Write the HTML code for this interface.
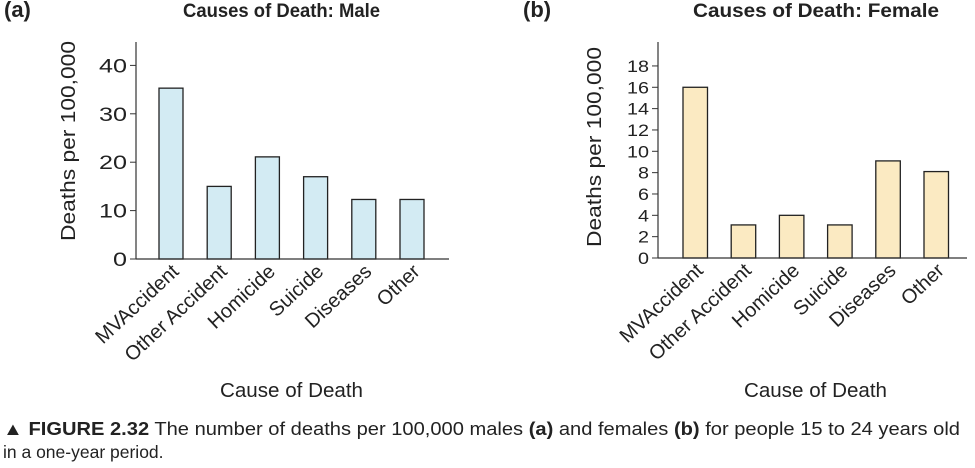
<!DOCTYPE html>
<html><head><meta charset="utf-8"><style>
body{margin:0;background:#fff;}
svg{display:block;font-family:"Liberation Sans",Arial,sans-serif;}
</style></head><body>
<svg id="fig" width="975" height="468" viewBox="0 0 975 468">
<text x="4" y="17" font-size="22" font-weight="bold" fill="#222">(a)</text>
<text x="183" y="17" font-size="19" font-weight="bold" fill="#222" textLength="197" lengthAdjust="spacingAndGlyphs">Causes of Death: Male</text>
<text x="523" y="17" font-size="22" font-weight="bold" fill="#222">(b)</text>
<text x="693" y="17" font-size="19" font-weight="bold" fill="#222" textLength="246" lengthAdjust="spacingAndGlyphs">Causes of Death: Female</text>
<text x="75" y="141" font-size="20" fill="#222" text-anchor="middle" textLength="200" lengthAdjust="spacingAndGlyphs" transform="rotate(-90 75 141)">Deaths per 100,000</text>
<text x="601" y="147" font-size="20" fill="#222" text-anchor="middle" textLength="200" lengthAdjust="spacingAndGlyphs" transform="rotate(-90 601 147)">Deaths per 100,000</text>
<text x="220" y="397" font-size="20" fill="#222" textLength="143" lengthAdjust="spacingAndGlyphs">Cause of Death</text>
<text x="744" y="397" font-size="20" fill="#222" textLength="143" lengthAdjust="spacingAndGlyphs">Cause of Death</text>
<text x="3" y="435" font-size="18" fill="#222" textLength="957" lengthAdjust="spacingAndGlyphs"><tspan font-weight="bold">▲ FIGURE 2.32</tspan> The number of deaths per 100,000 males <tspan font-weight="bold">(a)</tspan> and females <tspan font-weight="bold">(b)</tspan> for people 15 to 24 years old</text>
<text x="3" y="458" font-size="17.5" fill="#222">in a one-year period.</text>
<g id="male"></g>
<g id="female"></g>
</svg>
<script>
const categories = ["MVAccident","Other Accident","Homicide","Suicide","Diseases","Other"];
const maleValues = [35.3, 15, 21.1, 17, 12.3, 12.3];
const femaleValues = [16, 3.1, 4, 3.1, 9.1, 8.1];
const maleTicks = [0, 10, 20, 30, 40];
const femaleTicks = [0, 2, 4, 6, 8, 10, 12, 14, 16, 18];
const NS = "http://www.w3.org/2000/svg";
function mk(tag, attrs, parent){const e=document.createElementNS(NS,tag);for(const k in attrs)e.setAttribute(k,attrs[k]);parent.appendChild(e);return e;}
function draw(g, values, ticks, cfg){
  const yScale = v => cfg.base - v*cfg.pxPerUnit;
  const xScale = i => cfg.x0 + cfg.firstOff + i*cfg.step;
  ticks.forEach(t=>{
    const y=yScale(t);
    const tk=mk('line',{x1:cfg.x0-6,x2:cfg.x0,y1:y,y2:y,stroke:'#333','stroke-width':1},g);
    
    
    const s=String(t);
    const lb=mk('text',{x:cfg.x0-9,y:y+cfg.tickDy,'font-size':cfg.tickFont,'text-anchor':'end',fill:'#222',textLength:s.length*cfg.digitW,lengthAdjust:'spacingAndGlyphs'},g);
    lb.textContent=s;
    
    
  });
  values.forEach((v,i)=>{
    const x=xScale(i);
    const r=mk('rect',{x:x,y:yScale(v),width:cfg.bw,height:cfg.base-yScale(v),fill:cfg.fill,stroke:'#222','stroke-width':1.3},g);
    
    
    const cx=x+cfg.bw/2+9, cy=cfg.base+14;
    const t=mk('text',{x:cx,y:cy,'font-size':20,'text-anchor':'end',fill:'#222',transform:`rotate(-43 ${cx} ${cy})`},g);
    t.textContent=categories[i];
    
    
  });
  const ya=mk('line',{x1:cfg.x0,x2:cfg.x0,y1:42,y2:cfg.base,stroke:'#333','stroke-width':1.2},g);
  
  
  const xa=mk('line',{x1:cfg.x0,x2:cfg.xEnd,y1:cfg.base,y2:cfg.base,stroke:'#333','stroke-width':1.2},g);
  
  
}
draw(document.getElementById('male'), maleValues, maleTicks,
  {x0:136, base:259, pxPerUnit:4.84, firstOff:23, step:48.2, bw:24, xEnd:449, fill:'#d3ebf3', tickFont:19, digitW:14, tickDy:7});
draw(document.getElementById('female'), femaleValues, femaleTicks,
  {x0:658, base:258, pxPerUnit:10.67, firstOff:25, step:48.2, bw:24.5, xEnd:967, fill:'#fbeac2', tickFont:17, digitW:11, tickDy:6});
</script>
</body></html>
